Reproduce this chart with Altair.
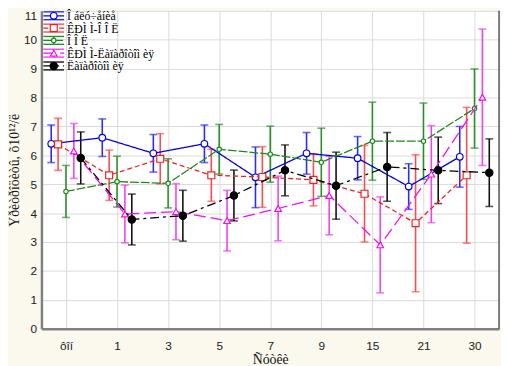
import json
import altair as alt
import pandas as pd

# ---------------- data ----------------
categories = ["ôîí", "1", "3", "5", "7", "9", "15", "21", "30"]
series_names = ["Î áëó÷åíèå", "ÊÐÌ Ì-Î Î Ë", "Î Î Ë", "ÊÐÌ Ì-Ëàïàðîòîì èÿ", "Ëàïàðîòîì èÿ"]

irr_mean = [6.40, 6.61, 6.07, 6.40, 5.24, 6.07, 5.90, 4.92, 5.95]
irr_err = [0.65, 0.65, 0.65, 0.65, 1.05, 0.72, 0.75, 0.79, 1.05]

krm_ool_mean = [6.38, 5.31, 5.88, 5.31, 5.25, 5.15, 4.67, 3.65, 5.31]
krm_ool_err = [0.90, 0.87, 0.87, 0.90, 1.05, 0.90, 1.67, 2.37, 2.35]

ool_mean = [4.75, 5.09, 5.03, 6.21, 6.04, 5.76, 6.49, 6.49, 7.62]
ool_err = [0.90, 0.88, 0.85, 0.86, 0.97, 1.18, 1.35, 1.32, 1.37]

krm_lap_mean = [6.15, 3.97, 4.05, 3.74, 4.16, 4.61, 2.90, 5.35, 8.01]
krm_lap_err = [0.95, 1.00, 0.97, 1.05, 1.12, 1.36, 1.66, 1.68, 2.36]

lap_mean = [5.91, 3.78, 3.91, 4.61, 5.48, 4.95, 5.60, 5.48, 5.40]
lap_err = [0.90, 0.88, 0.88, 0.88, 0.88, 1.16, 1.19, 1.15, 1.17]

means = [irr_mean, krm_ool_mean, ool_mean, krm_lap_mean, lap_mean]
errs = [irr_err, krm_ool_err, ool_err, krm_lap_err, lap_err]

y_title = "Ýðèòðîöèòû, õ10¹²/ë"
x_title = "Ñóòêè"

# ---------------- styles ----------------
W, H = 465, 323
X_DOMAIN = [-0.48, 8.48]
step = W / (X_DOMAIN[1] - X_DOMAIN[0])

styles = [
    dict(color="#0000ee", bar="#2a2aff", dash=[1, 0], shape="circle", fill="white", size=45, off=-15),
    dict(color="#f02020", bar="#ff4a4a", dash=[5, 3], shape="square", fill="white", size=50, off=-8),
    dict(color="#1b8a1b", bar="#2a8f2a", dash=[9, 2], shape="circle", fill="white", size=20, off=0),
    dict(color="#ee10ee", bar="#f040f0", dash=[12, 5], shape="triangle-up", fill="white", size=45, off=8),
    dict(color="#000000", bar="#111111", dash=[9, 4, 3, 4], shape="circle", fill="#000000", size=55, off=15),
]

rows = []
for s, name in enumerate(series_names):
    for i, cat in enumerate(categories):
        m, e = means[s][i], errs[s][i]
        rows.append(dict(series=name, sid=s, idx=i, mean=m, lo=m - e, hi=m + e))
df = pd.DataFrame(rows)

label_expr = json.dumps(categories, ensure_ascii=False) + "[datum.value]"

x_axis = alt.Axis(
    values=list(range(len(categories))), labelExpr=label_expr, grid=True, ticks=False,
    labelPadding=12, title=x_title, titleY=35, titleBaseline="alphabetic",
)
y_axis = alt.Axis(
    values=list(range(12)), grid=True, ticks=False, labelPadding=5,
    title=y_title, titlePadding=2,
    labelOffset={"condition": {"test": "datum.value == 11", "value": 5}, "value": 0},
)

def xenc():
    return alt.X("pos:Q", scale=alt.Scale(domain=X_DOMAIN, nice=False, zero=False), axis=x_axis)

def yenc(field):
    return alt.Y(f"{field}:Q", scale=alt.Scale(domain=[0, 11], nice=False), axis=y_axis)

layers = []
for s, name in enumerate(series_names):
    st = styles[s]
    base = alt.Chart(df).transform_filter(alt.datum.sid == s).transform_calculate(
        pos=f"datum.idx + {st['off'] / step}"
    )
    layers.append(base.mark_rule(color=st["bar"], strokeWidth=1.6).encode(
        x=xenc(), y=yenc("lo"), y2="hi:Q"))
    layers.append(base.mark_tick(color=st["bar"], orient="horizontal", size=8, thickness=1.6).encode(
        x=xenc(), y=yenc("lo")))
    layers.append(base.mark_tick(color=st["bar"], orient="horizontal", size=8, thickness=1.6).encode(
        x=xenc(), y=yenc("hi")))
for s, name in enumerate(series_names):
    st = styles[s]
    base = alt.Chart(df).transform_filter(alt.datum.sid == s).transform_calculate(
        pos=f"datum.idx + {st['off'] / step}"
    )
    layers.append(base.mark_line(color=st["color"], strokeWidth=1.3, strokeDash=st["dash"]).encode(
        x=xenc(), y=yenc("mean")))
    layers.append(base.mark_point(shape=st["shape"], fill=st["fill"], color=st["color"], filled=False,
                                  opacity=1, fillOpacity=1, size=st["size"], strokeWidth=1.2).encode(
        x=xenc(), y=yenc("mean")))

# right frame edge
one = pd.DataFrame({"a": [0]})
layers.append(alt.Chart(one).mark_rule(color="#555555", strokeWidth=1.5).encode(
    x=alt.value(W), y=alt.value(0), y2=alt.value(H)))

# manual legend
legend_rows = [5, 17.5, 30, 43, 56]
for s, name in enumerate(series_names):
    st = styles[s]
    ry = legend_rows[s]
    leg = alt.Chart(pd.DataFrame({"label": [name]}))
    for dy in (-4, 4):
        layers.append(leg.mark_rule(color=st["bar"], strokeWidth=1.4).encode(
            x=alt.value(2), x2=alt.value(23), y=alt.value(ry + dy)))
    layers.append(leg.mark_rule(color=st["bar"], strokeWidth=1.4).encode(
        x=alt.value(12.5), y=alt.value(ry - 4), y2=alt.value(ry + 4)))
    layers.append(leg.mark_rule(color=st["color"], strokeWidth=1.3, strokeDash=st["dash"]).encode(
        x=alt.value(2), x2=alt.value(23), y=alt.value(ry)))
    layers.append(leg.mark_point(shape=st["shape"], fill=st["fill"], color=st["color"], filled=False,
                                 opacity=1, fillOpacity=1, size=st["size"], strokeWidth=1.2).encode(
        x=alt.value(12.5), y=alt.value(ry)))
    layers.append(leg.mark_text(align="left", baseline="middle", font="Liberation Serif",
                                fontSize=12, color="black").encode(
        x=alt.value(26), y=alt.value(ry + 0.5), text="label:N"))

chart = alt.layer(*layers).properties(
    width=W, height=H, autosize="none",
    padding={"left": 34, "top": 0, "right": 2, "bottom": 35},
    background="#fbf8ee",
).configure_view(
    fill="white", stroke=None,
).configure_axis(
    domainColor="#808080", domainWidth=2.5,
    gridColor="#dadada", gridWidth=1,
    labelFont="Liberation Sans", labelFontSize=12, labelColor="#222222",
    titleFont="Liberation Serif", titleFontSize=14, titleFontWeight="normal", titleColor="#111111",
)

chart.save("out.html", embed_options={"renderer": "svg", "actions": False})
